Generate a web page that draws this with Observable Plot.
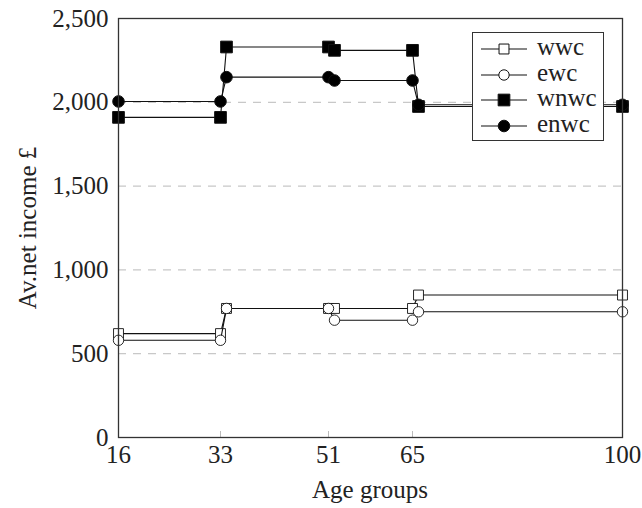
<!DOCTYPE html>
<html>
<head>
<meta charset="utf-8">
<script src="https://cdn.jsdelivr.net/npm/d3@7"></script>
<script src="https://cdn.jsdelivr.net/npm/@observablehq/plot@0.6"></script>
<style>
  html, body { margin: 0; padding: 0; background: #fff; }
  #wrap { position: relative; width: 642px; height: 508px; font-family: "Liberation Serif", "DejaVu Serif", "Times New Roman", Times, serif; }
  #legend { position: absolute; left: 472px; top: 32px; width: 132px; height: 109px; border: 1.2px solid #333; background: #fff; box-sizing: border-box; }
  .entry { position: absolute; left: 0; height: 26px; width: 130px; }
  .entry svg { position: absolute; left: 6px; top: 0; }
  .entry span { position: absolute; left: 64px; top: -2px; font-size: 25px; line-height: 26px; color: #222; }
  #ylab { position: absolute; left: 28px; top: 228px; transform: translate(-50%, -50%) rotate(-90deg); font-size: 25px; white-space: nowrap; color: #222; }
  #xlab { position: absolute; left: 370px; top: 490px; transform: translate(-50%, -50%); font-size: 25px; white-space: nowrap; color: #222; }
</style>
</head>
<body>
<div id="wrap"></div>
<script>
// ---- data ----
const ages = [16, 33, 34, 51, 52, 65, 66, 100];
const wwc  = [620, 620, 770, 770, 770, 770, 850, 850];
const ewc  = [580, 580, 770, 770, 700, 700, 750, 750];
const wnwc = [1910, 1910, 2330, 2330, 2310, 2310, 1975, 1975];
const enwc = [2005, 2005, 2150, 2150, 2130, 2130, 1985, 1985];
const seriesNames = ["wwc", "ewc", "wnwc", "enwc"];
const xTicks = [16, 33, 51, 65, 100];
const yTicks = [0, 500, 1000, 1500, 2000, 2500];
const xLabel = "Age groups";
const yLabel = "Av.net income £";

const FONT = '"Liberation Serif", "DejaVu Serif", "Times New Roman", Times, serif';
const seriesValues = [wwc, ewc, wnwc, enwc];
const styles = {
  wwc:  {symbol: "square", fill: "white", r: 5.6},
  ewc:  {symbol: "circle", fill: "white", r: 5.2},
  wnwc: {symbol: "square", fill: "black", r: 6.6},
  enwc: {symbol: "circle", fill: "black", r: 5.8}
};

const marks = [
  Plot.ruleY(yTicks.filter(d => d > 0 && d < 2500), {y: d => d, stroke: "#c8c8c8", strokeWidth: 1.2, strokeDasharray: "8,7"}),
  Plot.tickX(xTicks, {x: d => d, stroke: "#bbb", insetTop: 413})
];
seriesNames.forEach((name, i) => {
  const data = ages.map((a, j) => ({age: a, v: seriesValues[i][j]}));
  const s = styles[name];
  marks.push(Plot.line(data, {x: "age", y: "v", stroke: "#111", strokeWidth: 1.1}));
  marks.push(Plot.dot(data, {x: "age", y: "v", symbol: s.symbol, r: s.r, fill: s.fill, stroke: "#111", strokeWidth: s.fill === "white" ? 0.9 : 1}));
});
marks.push(Plot.frame({stroke: "#333", strokeWidth: 1.3}));
marks.push(Plot.axisX(xTicks, {tickSize: 0, tickPadding: 8, tickFormat: d => String(d), fontSize: 25, fill: "#222", label: null}));
marks.push(Plot.axisY(yTicks, {tickSize: 0, tickPadding: 10, tickFormat: d3.format(","), fontSize: 25, fill: "#222", label: null}));

const chart = Plot.plot({
  width: 642, height: 508,
  marginLeft: 118, marginRight: 20, marginTop: 18, marginBottom: 71,
  style: {fontFamily: FONT, background: "white", overflow: "visible"},
  x: {domain: [16, 100]},
  y: {domain: [0, 2500]},
  marks
});

const wrap = document.getElementById("wrap");
wrap.appendChild(chart);

const yl = document.createElement("div"); yl.id = "ylab"; yl.textContent = yLabel; wrap.appendChild(yl);
const xl = document.createElement("div"); xl.id = "xlab"; xl.textContent = xLabel; wrap.appendChild(xl);

const legend = document.createElement("div");
legend.id = "legend";
seriesNames.forEach((name, i) => {
  const s = styles[name];
  const e = document.createElement("div");
  e.className = "entry";
  e.style.top = (3 + i * 25.5) + "px";
  const path = d3.symbol(s.symbol === "square" ? d3.symbolSquare : d3.symbolCircle, Math.PI * s.r * s.r)();
  e.innerHTML = `<svg width="50" height="26"><line x1="2" x2="48" y1="13" y2="13" stroke="#111" stroke-width="1.1"/><path d="${path}" transform="translate(25,13)" fill="${s.fill}" stroke="#111" stroke-width="1"/></svg>`;
  const sp = document.createElement("span");
  sp.textContent = name;
  e.appendChild(sp);
  legend.appendChild(e);
});
wrap.appendChild(legend);
</script>
</body>
</html>
